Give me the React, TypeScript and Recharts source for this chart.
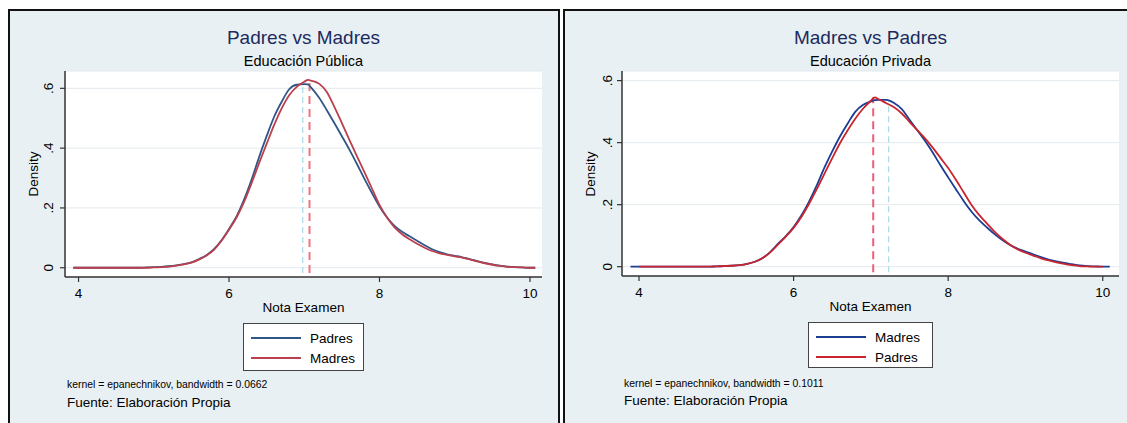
import React from 'react';
import { LineChart, Line, XAxis, YAxis, CartesianGrid, ReferenceLine, Legend } from 'recharts';

const FONT = '"Liberation Sans", Arial, Helvetica, sans-serif';
const BG = '#e9f0f3';

const X_TICKS = [4, 6, 8, 10];
const Y_TICKS = [0, 0.2, 0.4, 0.6];

// Educación Pública
const X_PUB = [3.93, 4.0, 4.1, 4.2, 4.3, 4.4, 4.5, 4.6, 4.7, 4.8, 4.9, 5.0, 5.1, 5.2, 5.3, 5.4, 5.5, 5.6, 5.7, 5.8, 5.9,
  6.0, 6.1, 6.2, 6.3, 6.4, 6.5, 6.6, 6.7, 6.8, 6.9, 7.0, 7.05, 7.1, 7.2, 7.3, 7.4, 7.5, 7.6, 7.7, 7.8, 7.9,
  8.0, 8.1, 8.2, 8.3, 8.4, 8.5, 8.6, 8.7, 8.8, 8.9, 9.0, 9.1, 9.2, 9.3, 9.4, 9.5, 9.6, 9.7, 9.8, 9.9, 10.0, 10.07];
const PADRES_PUB = [0, 0, 0, 0, 0, 0, 0, 0, 0, 0, 0.001, 0.002, 0.003, 0.005, 0.008, 0.012, 0.018, 0.029, 0.042, 0.062, 0.092,
  0.13, 0.172, 0.228, 0.295, 0.37, 0.44, 0.505, 0.555, 0.597, 0.612, 0.614, 0.613, 0.6, 0.568, 0.527, 0.484, 0.44, 0.395, 0.347, 0.297, 0.25,
  0.205, 0.168, 0.14, 0.12, 0.105, 0.09, 0.075, 0.062, 0.052, 0.045, 0.04, 0.035, 0.029, 0.022, 0.016, 0.011, 0.007, 0.004, 0.002, 0.001, 0, 0];
const MADRES_PUB = [0, 0, 0, 0, 0, 0, 0, 0, 0, 0, 0, 0.001, 0.002, 0.004, 0.007, 0.011, 0.017, 0.027, 0.041, 0.06, 0.09,
  0.127, 0.168, 0.22, 0.283, 0.35, 0.414, 0.478, 0.533, 0.577, 0.605, 0.622, 0.628, 0.625, 0.615, 0.588, 0.538, 0.484, 0.428, 0.373, 0.32, 0.265,
  0.21, 0.168, 0.135, 0.112, 0.095, 0.08, 0.067, 0.056, 0.048, 0.043, 0.038, 0.034, 0.028, 0.021, 0.015, 0.01, 0.006, 0.003, 0.002, 0.001, 0, 0];
const MEDIA_PUB = [6.98, 7.07]; // padres, madres
const TOPE_PUB = [0.613, 0.624];

// Educación Privada
const X_PRI = [3.89, 4.0, 4.1, 4.2, 4.3, 4.4, 4.5, 4.6, 4.7, 4.8, 4.9, 5.0, 5.1, 5.2, 5.3, 5.4, 5.5, 5.6, 5.7, 5.8, 5.9,
  6.0, 6.1, 6.2, 6.3, 6.4, 6.5, 6.6, 6.7, 6.8, 6.9, 7.0, 7.05, 7.1, 7.2, 7.3, 7.4, 7.5, 7.6, 7.7, 7.8, 7.9,
  8.0, 8.1, 8.2, 8.3, 8.4, 8.5, 8.6, 8.7, 8.8, 8.9, 9.0, 9.1, 9.2, 9.3, 9.4, 9.5, 9.6, 9.7, 9.8, 9.9, 10.0, 10.09];
const MADRES_PRI = [0, 0, 0, 0, 0, 0, 0, 0, 0, 0, 0, 0.001, 0.002, 0.003, 0.005, 0.009, 0.016, 0.028, 0.048, 0.074, 0.099,
  0.128, 0.165, 0.21, 0.262, 0.32, 0.372, 0.42, 0.462, 0.5, 0.522, 0.533, 0.537, 0.538, 0.538, 0.528, 0.508, 0.474, 0.44, 0.406, 0.368, 0.327,
  0.288, 0.25, 0.212, 0.178, 0.15, 0.127, 0.105, 0.086, 0.07, 0.058, 0.049, 0.04, 0.031, 0.023, 0.017, 0.012, 0.008, 0.004, 0.002, 0.001, 0, 0];
const PADRES_PRI = [null, 0, 0, 0, 0, 0, 0, 0, 0, 0, 0, 0.001, 0.002, 0.003, 0.005, 0.009, 0.016, 0.028, 0.047, 0.072, 0.097,
  0.125, 0.16, 0.203, 0.25, 0.3, 0.35, 0.398, 0.44, 0.478, 0.51, 0.535, 0.546, 0.54, 0.527, 0.514, 0.494, 0.467, 0.44, 0.414, 0.384, 0.351,
  0.318, 0.28, 0.24, 0.2, 0.167, 0.14, 0.113, 0.09, 0.071, 0.056, 0.045, 0.036, 0.027, 0.02, 0.014, 0.009, 0.005, 0.002, 0.001, 0, 0, null];
const MEDIA_PRI = [7.23, 7.03]; // madres, padres
const TOPE_PRI = [0.535, 0.546];

const fmt = (v: number) => (v === 0 ? '0' : String(v).replace(/^0/, ''));

const LegendBox = ({ payload, order }: any) => {
  const items = order.map((s: any) => (payload || []).find((e: any) => e.dataKey === s.key)).filter(Boolean);
  return (
    <div style={{ boxSizing: 'border-box', width: '100%', height: '100%', border: '1px solid #444', background: '#fff', padding: '4px 0 0 7px', fontFamily: FONT }}>
      {items.map((e: any) => (
        <div key={e.value} style={{ display: 'flex', alignItems: 'center', height: 20 }}>
          <span style={{ display: 'inline-block', width: 50, height: 2, background: e.color, marginRight: 9 }} />
          <span style={{ fontSize: 13.5, color: '#000' }}>{e.value}</span>
        </div>
      ))}
    </div>
  );
};

function Panel(p: any) {
  const cx = (p.plotLeft + p.plotRight) / 2;
  const cy = (p.plotTop + p.plotBottom) / 2;
  const txt = (extra: any) => ({ position: 'absolute' as const, whiteSpace: 'nowrap' as const, fontFamily: FONT, color: '#000', lineHeight: 1, ...extra });
  return (
    <div style={{ position: 'absolute', left: p.chartLeft, top: 0, width: p.chartWidth, height: 423 }}>
      <LineChart
        width={p.chartWidth}
        height={423}
        data={p.rows}
        margin={{ top: p.plotTop, right: p.chartWidth - p.plotRight, bottom: 423 - p.plotBottom - 30, left: 0 }}
      >
        <CartesianGrid vertical={false} stroke="#e2e9ed" fill="#fff" fillOpacity={1} />
        <XAxis
          dataKey="x"
          type="number"
          domain={p.xDomain}
          ticks={X_TICKS}
          allowDataOverflow
          height={30}
          axisLine={{ stroke: '#333', strokeWidth: 1.5 }}
          tickLine={{ stroke: '#333', strokeWidth: 1.2 }}
          tickSize={5}
          tick={({ x, y, payload }: any) => (
            <text x={x} y={y + 9} textAnchor="middle" dominantBaseline="central" fontSize={13.5} fill="#000" fontFamily={FONT}>
              {payload.value}
            </text>
          )}
        />
        <YAxis
          type="number"
          domain={p.yDomain}
          ticks={Y_TICKS}
          allowDataOverflow
          width={p.plotLeft}
          axisLine={{ stroke: '#333', strokeWidth: 1.5 }}
          tickLine={{ stroke: '#333', strokeWidth: 1.2 }}
          tickSize={5}
          tick={({ x, y, payload }: any) => {
            const tx = x - p.tickShift;
            return (
              <text x={tx} y={y} textAnchor="middle" dominantBaseline="central" transform={`rotate(-90, ${tx}, ${y})`} fontSize={13.5} fill="#000" fontFamily={FONT}>
                {fmt(payload.value)}
              </text>
            );
          }}
        />
        {p.means.map((m: any, i: number) => (
          <ReferenceLine
            key={i}
            segment={[{ x: m.x, y: -0.018 }, { x: m.x, y: m.top }]}
            stroke={m.color}
            strokeWidth={m.width}
            strokeDasharray={m.dash}
            ifOverflow="visible"
          />
        ))}
        {p.series.map((s: any) => (
          <Line
            key={s.key}
            dataKey={s.key}
            name={s.name}
            type="monotone"
            stroke={s.color}
            strokeWidth={1.8}
            dot={false}
            activeDot={false}
            isAnimationActive={false}
          />
        ))}
        <Legend
          layout="horizontal"
          verticalAlign="middle"
          align="center"
          wrapperStyle={{ left: p.legend[0], top: p.legend[1], width: p.legend[2], height: p.legend[3] }}
          content={(props: any) => <LegendBox {...props} order={p.series} />}
        />
      </LineChart>
      <div style={txt({ left: cx, top: 37, transform: 'translate(-50%,-50%)', fontSize: 19, color: '#1c2b5e' })}>{p.title}</div>
      <div style={txt({ left: cx, top: 61, transform: 'translate(-50%,-50%)', fontSize: 14.5 })}>{p.subtitle}</div>
      <div style={txt({ left: cx, top: p.xLabelY, transform: 'translate(-50%,-50%)', fontSize: 13.5 })}>Nota Examen</div>
      <div style={txt({ left: p.densityX, top: cy, transform: 'translate(-50%,-50%) rotate(-90deg)', fontSize: 13.5 })}>Density</div>
      <div style={txt({ left: p.noteX, top: p.noteY, transform: 'translateY(-50%)', fontSize: 10.4 })}>{p.note}</div>
      <div style={txt({ left: p.noteX, top: p.fuenteY, transform: 'translateY(-50%)', fontSize: 13.5 })}>Fuente: Elaboración Propia</div>
    </div>
  );
}

export default function App() {
  const rowsPub = X_PUB.map((x, i) => ({ x, padres: PADRES_PUB[i], madres: MADRES_PUB[i] }));
  const rowsPri = X_PRI.map((x, i) => ({ x, madres: MADRES_PRI[i], padres: PADRES_PRI[i] }));
  return (
    <div style={{ position: 'absolute', left: 0, top: 0, width: 1127, height: 423, overflow: 'hidden', background: '#fff' }}>
      <div style={{ position: 'absolute', left: 8, top: 9, width: 552, height: 430, boxSizing: 'border-box', borderTop: '2px solid #111', borderLeft: '2px solid #111', borderRight: '2px solid #111', background: BG }} />
      <div style={{ position: 'absolute', left: 563, top: 9, width: 600, height: 430, boxSizing: 'border-box', borderTop: '2px solid #111', borderLeft: '2px solid #111', background: BG }} />
      <Panel
        chartLeft={0}
        chartWidth={560}
        plotLeft={65}
        plotRight={542}
        plotTop={71}
        plotBottom={277}
        xDomain={[3.82, 10.16]}
        yDomain={[-0.031, 0.658]}
        tickShift={9}
        rows={rowsPub}
        series={[
          { key: 'padres', name: 'Padres', color: '#2f5688' },
          { key: 'madres', name: 'Madres', color: '#bb3f4d' },
        ]}
        means={[
          { x: MEDIA_PUB[0], top: TOPE_PUB[0], color: '#a9d9ea', width: 1.2, dash: '6 4' },
          { x: MEDIA_PUB[1], top: TOPE_PUB[1], color: '#ee7480', width: 2, dash: '8 5' },
        ]}
        legend={[243, 323, 121, 48]}
        title="Padres vs Madres"
        subtitle="Educación Pública"
        note="kernel = epanechnikov, bandwidth = 0.0662"
        xLabelY={308}
        densityX={34}
        noteX={67}
        noteY={385}
        fuenteY={403}
      />
      <Panel
        chartLeft={560}
        chartWidth={567}
        plotLeft={62}
        plotRight={559}
        plotTop={71}
        plotBottom={276}
        xDomain={[3.78, 10.21]}
        yDomain={[-0.03, 0.631]}
        tickShift={7.5}
        rows={rowsPri}
        series={[
          { key: 'madres', name: 'Madres', color: '#1b3d92' },
          { key: 'padres', name: 'Padres', color: '#c9252f' },
        ]}
        means={[
          { x: MEDIA_PRI[0], top: TOPE_PRI[0], color: '#a9d9ea', width: 1.2, dash: '6 4' },
          { x: MEDIA_PRI[1], top: TOPE_PRI[1], color: '#ea5f7a', width: 2, dash: '8 5' },
        ]}
        legend={[248, 322, 125, 46]}
        title="Madres vs Padres"
        subtitle="Educación Privada"
        note="kernel = epanechnikov, bandwidth = 0.1011"
        xLabelY={307}
        densityX={31}
        noteX={64}
        noteY={383.5}
        fuenteY={401}
      />
    </div>
  );
}
